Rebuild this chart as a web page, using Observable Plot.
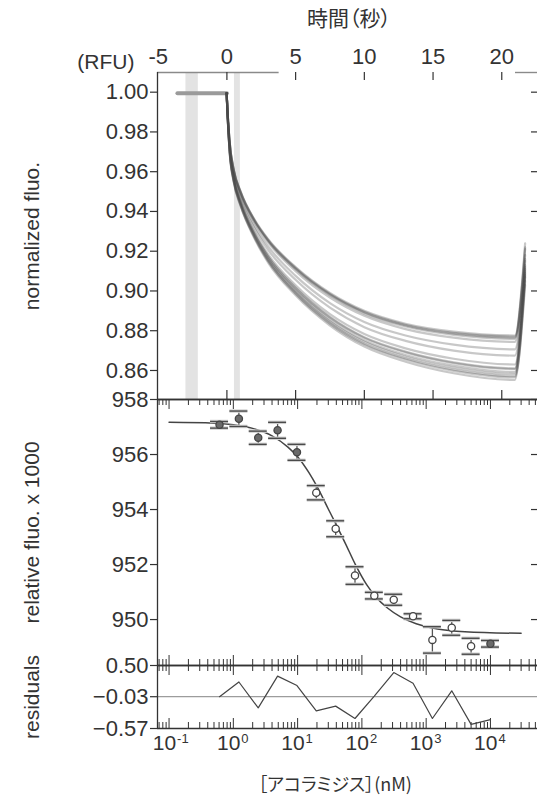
<!DOCTYPE html>
<html><head><meta charset="utf-8">
<script src="https://cdn.jsdelivr.net/npm/d3@7"></script>
<script src="https://cdn.jsdelivr.net/npm/@observablehq/plot@0.6"></script>
<style>
body{margin:0;background:#fff;}
#wrap{position:relative;width:537px;height:796px;overflow:hidden;background:#fff;}
#wrap svg{position:absolute;left:0;top:0;}
.ttl{position:absolute;font-family:"Noto Sans CJK JP",sans-serif;color:#333;white-space:nowrap;font-feature-settings:"palt";line-height:1;transform:translate(-50%,-50%);}
</style></head><body>
<div id="wrap"></div>
<script>
// ---------- data ----------
const timeTicks = [-5, 0, 5, 10, 15, 20];
const normTicks = [0.86, 0.88, 0.90, 0.92, 0.94, 0.96, 0.98, 1.00];
const relTicks = [950, 952, 954, 956, 958];
const residTicks = [0.50, -0.03, -0.57];
const residTickLabels = ["0.50", "\u22120.03", "\u22120.57"];
const decadeTicks = [0.1, 1, 10, 100, 1000, 10000];
const decadeExp = ["-1", "0", "1", "2", "3", "4"];

const bandStart = [-2.98, 0.55];
const bandEnd = [-2.08, 0.98];
const topLineStart = [-5.05, 21.0];
const topLineEnd = [3.8, 22.6];

const preTimes = [-3.6, 0];
const preValues = [0.9995, 0.9995];

const traceTimes = [-0.02, 0.05, 0.2, 0.5, 1, 2, 3, 5, 7.5, 10, 13, 16.5, 20.95, 21.7];
const trace1  = [0.9995, 0.9899, 0.9749, 0.9608, 0.9498, 0.9357, 0.9257, 0.9116, 0.8985, 0.8895, 0.8830, 0.8789, 0.8770, 0.921];
const trace2  = [0.9995, 0.9900, 0.9750, 0.9610, 0.9500, 0.9360, 0.9260, 0.9120, 0.8990, 0.8900, 0.8835, 0.8795, 0.8776, 0.924];
const trace3  = [0.9995, 0.9898, 0.9746, 0.9605, 0.9494, 0.9353, 0.9251, 0.9109, 0.8978, 0.8886, 0.8821, 0.8779, 0.8759, 0.918];
const trace4  = [0.9995, 0.9899, 0.9748, 0.9607, 0.9497, 0.9356, 0.9255, 0.9113, 0.8982, 0.8892, 0.8826, 0.8785, 0.8765, 0.922];
const trace5  = [0.9995, 0.9897, 0.9743, 0.9601, 0.9490, 0.9347, 0.9244, 0.9100, 0.8967, 0.8875, 0.8808, 0.8765, 0.8744, 0.916];
const trace6  = [0.9995, 0.9893, 0.9734, 0.9590, 0.9477, 0.9330, 0.9224, 0.9076, 0.8939, 0.8844, 0.8776, 0.8730, 0.8706, 0.913];
const trace7  = [0.9995, 0.9890, 0.9726, 0.9581, 0.9466, 0.9317, 0.9207, 0.9056, 0.8916, 0.8818, 0.8749, 0.8700, 0.8675, 0.911];
const trace8  = [0.9995, 0.9886, 0.9716, 0.9569, 0.9452, 0.9298, 0.9184, 0.9028, 0.8883, 0.8783, 0.8711, 0.8659, 0.8630, 0.909];
const trace9  = [0.9995, 0.9884, 0.9711, 0.9563, 0.9445, 0.9290, 0.9174, 0.9016, 0.8869, 0.8767, 0.8695, 0.8641, 0.8611, 0.915];
const trace10 = [0.9995, 0.9884, 0.9710, 0.9562, 0.9444, 0.9288, 0.9172, 0.9013, 0.8866, 0.8764, 0.8691, 0.8637, 0.8607, 0.907];
const trace11 = [0.9995, 0.9883, 0.9707, 0.9558, 0.9439, 0.9282, 0.9164, 0.9003, 0.8855, 0.8752, 0.8678, 0.8624, 0.8592, 0.912];
const trace12 = [0.9995, 0.9881, 0.9702, 0.9552, 0.9432, 0.9273, 0.9153, 0.8990, 0.8840, 0.8735, 0.8660, 0.8604, 0.8571, 0.905];
const trace13 = [0.9995, 0.9882, 0.9705, 0.9555, 0.9436, 0.9277, 0.9159, 0.8997, 0.8847, 0.8744, 0.8669, 0.8614, 0.8582, 0.910];
const trace14 = [0.9995, 0.9880, 0.9700, 0.9550, 0.9430, 0.9270, 0.9150, 0.8986, 0.8835, 0.8730, 0.8655, 0.8598, 0.8565, 0.903];
const trace15 = [0.9995, 0.9879, 0.9697, 0.9546, 0.9426, 0.9265, 0.9143, 0.8978, 0.8826, 0.8720, 0.8644, 0.8586, 0.8552, 0.908];
const traces = [trace1, trace2, trace3, trace4, trace5, trace6, trace7, trace8, trace9, trace10, trace11, trace12, trace13, trace14, trace15];

const conc     = [0.61, 1.22, 2.44, 4.88, 9.77, 19.5, 39.1, 78.1, 156, 313, 625, 1250, 2500, 5000, 10000];
const relFluo  = [957.08, 957.30, 956.61, 956.88, 956.08, 954.61, 953.30, 951.60, 950.87, 950.72, 950.12, 949.26, 949.70, 949.03, 949.12];
const relErr   = [0.12, 0.28, 0.24, 0.29, 0.29, 0.26, 0.29, 0.32, 0.12, 0.20, 0.09, 0.48, 0.27, 0.29, 0.12];
const filled   = [true, true, true, true, true, false, false, false, false, false, false, false, false, false, true];
const residuals = [-0.03, 0.22, -0.22, 0.32, 0.16, -0.27, -0.19, -0.40, -0.02, 0.38, 0.20, -0.40, 0.07, -0.50, -0.42];

const fitConc = [0.1, 0.5, 1, 2, 4, 7, 10, 15, 20, 30, 40, 55, 80, 120, 160, 250, 400, 700, 1500, 4000, 30000];
const fitVal  = [957.17, 957.14, 957.08, 956.95, 956.68, 956.28, 955.92, 955.34, 954.84, 954.02, 953.44, 952.78, 951.98, 951.25, 950.86, 950.42, 950.10, 949.85, 949.66, 949.56, 949.50];

// ---------- layout ----------
const W = 537, H = 796, ML = 157;
const FW = W - ML;
const FONT = "'Liberation Sans', Arial, Helvetica, sans-serif";
const INK = "#333";
const FS = 22;
const xA = [-5.05, 22.6];
const yA = [0.8454, 1.0099];
const xLog = [0.0661, 53950];
const yB = [948.33, 958];
const yC = [-0.57, 0.50];
const topA = 72, botA = 399, botB = 665, botC = 728;
const FHA = botA - topA, FHB = botB - botA, FHC = botC - botB;

const style = {fontFamily: FONT, background: "transparent", overflow: "visible", color: INK};

const bands = bandStart.map((s, i) => ({s, e: bandEnd[i]}));
const topSegs = topLineStart.map((a, i) => ({a, b: topLineEnd[i]}));
const pre = preTimes.map((t, i) => ({t, v: preValues[i]}));
const traceRows = traces.flatMap((tr, k) => tr.map((v, i) => ({k, t: traceTimes[i], v})));
const pts = conc.map((c, i) => ({c, v: relFluo[i], e: relErr[i], f: filled[i]}));
const fitRows = fitConc.map((c, i) => ({c, v: fitVal[i]}));
const residRows = conc.map((c, i) => ({c, r: residuals[i]}));
const isDecade = d => decadeTicks.some(p => Math.abs(d / p - 1) < 1e-9);
const minorLog = d3.scaleLog().domain(xLog).ticks().filter(d => !isDecade(d));

const yLabel = (txt) => Plot.text([txt], {text: d => d, frameAnchor: "left", textAnchor: "middle", lineAnchor: "middle", rotate: -90, dx: -125, fontSize: 21, fill: INK});

// ---------- top panel ----------
const plotA = Plot.plot({
  width: W, height: H, marginLeft: ML, marginRight: 0, marginTop: topA, marginBottom: H - botA,
  x: {domain: xA, axis: null},
  y: {domain: yA, axis: null},
  style,
  marks: [
    Plot.rect(bands, {x1: "s", x2: "e", fill: "#e3e3e3"}),
    Plot.line(pre, {x: "t", y: "v", stroke: "#9a9a9a", strokeWidth: 4}),
    Plot.line(traceRows, {x: "t", y: "v", z: "k", stroke: "#484848", strokeOpacity: 0.3, strokeWidth: 2.2, curve: "monotone-x"}),
    Plot.ruleY(topSegs, {y: () => yA[1], x1: "a", x2: "b", stroke: "#8a8a8a", strokeWidth: 1.4}),
    Plot.ruleX([xA[0]], {stroke: INK, strokeWidth: 1.3}),
    Plot.ruleY([yA[0]], {stroke: INK, strokeWidth: 1.3}),
    Plot.ruleX(timeTicks.slice(1), {x: d => d, insetBottom: FHA - 8, stroke: INK, strokeWidth: 1.2}),
    Plot.ruleX(timeTicks.slice(1), {x: d => d, insetTop: FHA - 9, stroke: INK, strokeWidth: 1.2}),
    Plot.ruleY(normTicks, {y: d => d, insetLeft: -7, insetRight: FW, stroke: INK, strokeWidth: 1.2}),
    Plot.ruleY(normTicks, {y: d => d, insetLeft: FW - 6, stroke: INK, strokeWidth: 1.2}),
    Plot.text(normTicks, {y: d => d, text: d => d.toFixed(2), frameAnchor: "left", textAnchor: "end", lineAnchor: "middle", dx: -9, fontSize: FS, fill: INK}),
    Plot.text(timeTicks, {x: d => d, text: d => String(d), frameAnchor: "top", textAnchor: "middle", lineAnchor: "middle", dy: -16, fontSize: FS, fill: INK}),
    Plot.text(["(RFU)"], {text: d => d, frameAnchor: "top-left", textAnchor: "end", lineAnchor: "middle", dx: -23, dy: -10, fontSize: 21, fill: INK}),
    yLabel("normalized fluo.")
  ]
});

// ---------- middle panel ----------
const plotB = Plot.plot({
  width: W, height: H, marginLeft: ML, marginRight: 0, marginTop: botA, marginBottom: H - botB,
  x: {type: "log", domain: xLog, axis: null},
  y: {domain: yB, axis: null},
  color: {type: "identity"},
  style,
  marks: [
    Plot.ruleX(minorLog, {x: d => d, insetBottom: FHB - 6, stroke: INK}),
    Plot.ruleX(decadeTicks, {x: d => d, insetBottom: FHB - 10, stroke: INK}),
    Plot.ruleX(minorLog, {x: d => d, insetTop: FHB - 6, stroke: INK}),
    Plot.ruleX(decadeTicks, {x: d => d, insetTop: FHB - 10, stroke: INK}),
    Plot.line(fitRows, {x: "c", y: "v", curve: "monotone-x", stroke: "#444", strokeWidth: 1.5}),
    Plot.ruleX(pts, {x: "c", y1: d => d.v - d.e, y2: d => d.v + d.e, stroke: "#555", strokeWidth: 1.3}),
    Plot.ruleY(pts, {y: d => d.v + d.e, x1: "c", x2: "c", insetLeft: -9, insetRight: -9, stroke: "#d2d2d2", strokeWidth: 3.5}),
    Plot.ruleY(pts, {y: d => d.v - d.e, x1: "c", x2: "c", insetLeft: -9, insetRight: -9, stroke: "#d2d2d2", strokeWidth: 3.5}),
    Plot.ruleY(pts, {y: d => d.v + d.e, x1: "c", x2: "c", insetLeft: -9, insetRight: -9, stroke: "#4a4a4a", strokeWidth: 1.4}),
    Plot.ruleY(pts, {y: d => d.v - d.e, x1: "c", x2: "c", insetLeft: -9, insetRight: -9, stroke: "#4a4a4a", strokeWidth: 1.4}),
    Plot.dot(pts, {x: "c", y: "v", r: 3.6, fill: d => d.f ? "#6a6a6a" : "white", stroke: "#444", strokeWidth: 1.3}),
    Plot.ruleX([xLog[0]], {stroke: INK, strokeWidth: 1.3}),
    Plot.ruleY([yB[0]], {stroke: INK, strokeWidth: 1.3}),
    Plot.ruleY([yB[1]], {stroke: INK, strokeWidth: 1.3}),
    Plot.ruleY(relTicks, {y: d => d, insetLeft: -7, insetRight: FW, stroke: INK, strokeWidth: 1.2}),
    Plot.ruleY(relTicks, {y: d => d, insetLeft: FW - 6, stroke: INK, strokeWidth: 1.2}),
    Plot.text(relTicks, {y: d => d, text: d => String(d), frameAnchor: "left", textAnchor: "end", lineAnchor: "middle", dx: -9, fontSize: FS, fill: INK}),
    yLabel("relative fluo. x 1000")
  ]
});

// ---------- residual panel ----------
const plotC = Plot.plot({
  width: W, height: H, marginLeft: ML, marginRight: 0, marginTop: botB, marginBottom: H - botC,
  x: {type: "log", domain: xLog, axis: null},
  y: {domain: yC, axis: null},
  style,
  marks: [
    Plot.ruleY([residTicks[1]], {stroke: "#9c9c9c", strokeWidth: 1.2}),
    Plot.ruleX(minorLog, {x: d => d, insetBottom: FHC - 6, stroke: INK}),
    Plot.ruleX(decadeTicks, {x: d => d, insetBottom: FHC - 10, stroke: INK}),
    Plot.ruleX(minorLog, {x: d => d, insetTop: FHC - 6, stroke: INK}),
    Plot.ruleX(decadeTicks, {x: d => d, insetTop: FHC - 10, stroke: INK}),
    Plot.line(residRows, {x: "c", y: "r", stroke: "#444", strokeWidth: 1.2}),
    Plot.ruleX([xLog[0]], {stroke: INK, strokeWidth: 1.3}),
    Plot.ruleY([yC[0]], {stroke: INK, strokeWidth: 1.3}),
    Plot.ruleY([yC[1]], {stroke: INK, strokeWidth: 1.3}),
    Plot.ruleY(residTicks, {y: d => d, insetLeft: -7, insetRight: FW, stroke: INK, strokeWidth: 1.2}),
    Plot.text(residTicks, {y: d => d, text: (d, i) => residTickLabels[i], frameAnchor: "left", textAnchor: "end", lineAnchor: "middle", dx: -9, fontSize: FS, fill: INK}),
    Plot.text(decadeTicks, {x: d => d, text: () => "10", frameAnchor: "bottom", textAnchor: "end", lineAnchor: "middle", dx: 7, dy: 15, fontSize: 21, fill: INK}),
    Plot.text(decadeTicks, {x: d => d, text: (d, i) => decadeExp[i], frameAnchor: "bottom", textAnchor: "start", lineAnchor: "middle", dx: 8, dy: 10, fontSize: 13, fill: INK}),
    yLabel("residuals")
  ]
});

const wrap = document.getElementById("wrap");
[plotA, plotB, plotC].forEach(p => wrap.appendChild(p));

const t1 = document.createElement("div");
t1.className = "ttl"; t1.textContent = "時間（秒）";
Object.assign(t1.style, {left: "349px", top: "17px", fontSize: "21px"});
wrap.appendChild(t1);
const t2 = document.createElement("div");
t2.className = "ttl"; t2.textContent = "［アコラミジス］(nM)";
Object.assign(t2.style, {left: "335px", top: "783px", fontSize: "18px"});
wrap.appendChild(t2);
</script>
</body></html>
